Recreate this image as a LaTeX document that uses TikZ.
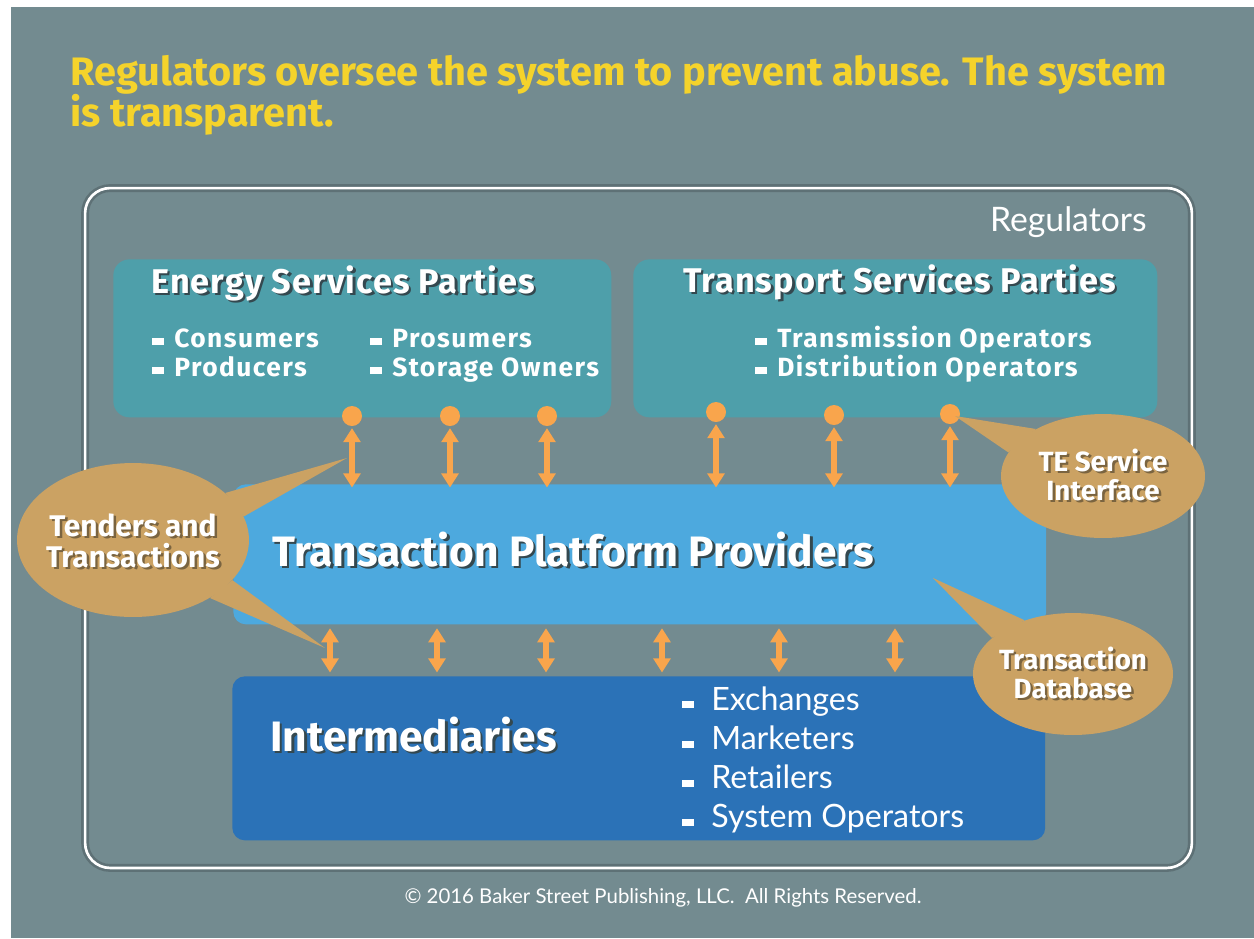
\documentclass[tikz,border=0pt]{standalone}
\usepackage{fontspec}
\setmainfont{Lato}
\newfontfamily\heavyfont{Fira Sans}
\usetikzlibrary{arrows.meta,positioning,shapes.geometric}

\definecolor{slate}{HTML}{738B90}
\definecolor{tealbox}{HTML}{4E9FAA}
\definecolor{skybox}{HTML}{4DA9DE}
\definecolor{navybox}{HTML}{2B72B7}
\definecolor{pumpkin}{HTML}{F9A54C}
\definecolor{sand}{HTML}{CBA263}
\definecolor{mustard}{HTML}{F5D32B}
\definecolor{textshade}{HTML}{34484F}
\definecolor{sandshade}{HTML}{7A6440}

% white text with a dark drop shadow
\newcommand{\shtxt}[2][textshade]{\makebox[0pt][l]{\hspace{1.4pt}\raisebox{-1.4pt}{\textcolor{#1}{#2}}}#2}
% square bullet
\newcommand{\bul}[1]{\rule[1pt]{6.5pt}{4pt}\hspace{#1}}

\tikzset{
  partybox/.style={anchor=north west,inner sep=0,rounded corners=0.32cm,
    fill=tealbox,minimum height=3.16cm},
  boxtitle/.style={anchor=base west,inner sep=0,text=white,
    font=\heavyfont\addfontfeature{LetterSpace=3}\fontsize{19.5}{21}\selectfont\bfseries},
  partyitem/.style={anchor=base west,inner sep=0,text=white,
    font=\heavyfont\addfontfeature{LetterSpace=5.5}\fontsize{15}{16}\selectfont\bfseries},
  bigtitle/.style={anchor=base west,inner sep=0,text=white,
    font=\heavyfont\fontsize{24.2}{27}\selectfont\bfseries},
  interitem/.style={anchor=base west,inner sep=0,text=white,
    font=\fontsize{18.3}{20}\selectfont},
  port/.style={circle,fill=pumpkin,inner sep=0,minimum size=0.4cm},
  dblarrow/.style={draw=pumpkin,line width=3pt,
    {Triangle[width=9.5pt,length=8pt]}-{Triangle[width=9.5pt,length=8pt]}},
  bubble/.style={ellipse,fill=sand,inner sep=0},
  bubbletext/.style={inner sep=0,text=white,align=center,
    font=\heavyfont\fontsize{15.8}{16.5}\selectfont\bfseries}
}

\begin{document}
\begin{tikzpicture}[x=0.02cm,y=-0.02cm]
  \useasboundingbox (0,0) rectangle (1254,938);
  \fill[white] (0,0) rectangle (1254,938);
  \fill[slate] (11,7) rectangle (1254,938);

  \node[anchor=north west,inner sep=0,text=mustard,align=left,
    font=\heavyfont\fontsize{22.6}{23.5}\selectfont\bfseries] (headline) at (70,55)
    {Regulators oversee the system to prevent abuse. The system\\is transparent.};

  % regulators frame
  \node[draw=white,line width=1.5pt,rounded corners=0.5cm,
    preaction={draw=black,draw opacity=0.18,line width=4.5pt},
    minimum width=22.14cm,minimum height=13.6cm] (reg) at (638.5,528) {};
  \node[anchor=base east,inner sep=0,text=white,
    font=\fontsize{19.2}{21}\selectfont] (reglabel) at (1147,231) {Regulators};

  % parties
  \node[partybox,minimum width=9.96cm] (esp) at (113,259) {};
  \node[partybox,minimum width=10.48cm] (tsp) at (633,259) {};
  \node[boxtitle] (esptitle) at (151,293) {\shtxt{Energy Services Parties}};
  \node[boxtitle] (tsptitle) at (683,292) {\shtxt{Transport Services Parties}};

  \foreach \txt [count=\i] in {Consumers,Producers}
    \node[partyitem] (espa\i) at (152,{347+(\i-1)*29}) {\bul{6pt}\txt};
  \foreach \txt [count=\i] in {Prosumers,Storage Owners}
    \node[partyitem] (espb\i) at (370,{347+(\i-1)*29}) {\bul{6pt}\txt};
  \foreach \txt [count=\i] in {Transmission Operators,Distribution Operators}
    \node[partyitem] (tspa\i) at (755,{347+(\i-1)*29}) {\bul{6pt}\txt};

  % platform and intermediaries
  \node[anchor=north west,inner sep=0,rounded corners=0.25cm,fill=skybox,
    minimum width=16.26cm,minimum height=2.8cm] (tpp) at (233,484) {};
  \node[bigtitle] (tpptitle) at (272,566) {\shtxt{Transaction Platform Providers}};

  \node[anchor=north west,inner sep=0,rounded corners=0.25cm,fill=navybox,
    minimum width=16.26cm,minimum height=3.28cm] (inter) at (232,676) {};
  \node[bigtitle] (intertitle) at (270,751) {\shtxt{Intermediaries}};
  \foreach \txt [count=\i] in {Exchanges,Marketers,Retailers,System Operators}
    \node[interitem] (intera\i) at (682,{710+(\i-1)*39.3}) {\bul{10pt}\txt};

  % service interfaces
  \foreach \x/\y [count=\i] in {352/416,450/416,547/416,716/412,834/415,950/414}
    \node[port] (port\i) at (\x,\y) {};
  \foreach \i in {1,...,6}
    \draw[dblarrow,shorten <=1pt,shorten >=-2pt] (port\i.south) -- (port\i |- tpp.north);

  \foreach \x in {330,437,546,662,779,895}
    \draw[dblarrow,shorten <=2pt,shorten >=2pt] ({\x},0 |- tpp.south) -- ({\x},0 |- inter.north);

  % callouts
  \node[bubble,minimum width=4.64cm,minimum height=3.08cm] (tenders) at (133,540) {};
  \coordinate (tendtip1) at (347,458);
  \coordinate (tendtip2) at (325,648);
  \fill[sand] (tenders.27) -- (tendtip1) -- (tenders.12) -- cycle;
  \fill[sand] (tenders.-22) -- (tendtip2) -- (tenders.-37) -- cycle;
  \node[bubbletext,font=\heavyfont\fontsize{17}{17.5}\selectfont\bfseries] (tenderstxt)
    at (133,542) {\shtxt[sandshade]{Tenders and}\\\shtxt[sandshade]{Transactions}};

  \node[bubble,minimum width=4.08cm,minimum height=2.48cm] (teif) at (1103,476) {};
  \coordinate (teiftip) at (955,416);
  \fill[sand] (teif.145) -- (teiftip) -- (teif.166) -- cycle;
  \node[bubbletext] (teiftxt) at (teif.center)
    {\shtxt[sandshade]{TE Service}\\\shtxt[sandshade]{Interface}};

  \node[bubble,minimum width=4cm,minimum height=2.44cm] (tdb) at (1073,674) {};
  \coordinate (tdbtip) at (933,578);
  \fill[sand] (tdb.132) -- (tdbtip) -- (tdb.156) -- cycle;
  \node[bubbletext] (tdbtxt) at (tdb.center)
    {\shtxt[sandshade]{Transaction}\\\shtxt[sandshade]{Database}};

  \node[inner sep=0,text=white,font=\fontsize{11.6}{13}\selectfont] (copyr) at (663,898)
    {\textcopyright{} 2016 Baker Street Publishing, LLC.\ \ All Rights Reserved.};
\end{tikzpicture}
\end{document}
